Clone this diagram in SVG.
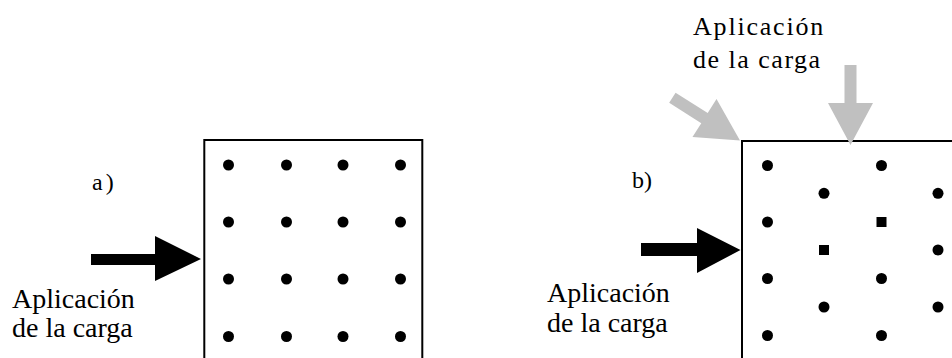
<svg xmlns="http://www.w3.org/2000/svg" width="952" height="358" viewBox="0 0 952 358">
<style>
.lbl{fill:#000;font-family:"Liberation Serif","Times New Roman",serif}
.box{fill:none;stroke:#000;stroke-width:2}
.dot{fill:#000}
.blk{fill:#000}
.gry{fill:#c0c0c0}
</style>
<defs>
<circle id="d" r="5.5" class="dot"/>
<rect id="s" x="-5" y="-5" width="10" height="10" class="dot"/>
<polygon id="ga" points="-80,-6 -42,-6 -42,-22.5 0,0 -42,22.5 -42,6 -80,6"/>
</defs>
<rect width="952" height="358" fill="#fff"/>

<g id="panel-a">
  <text class="lbl" x="92" y="190" font-size="24" letter-spacing="3">a)</text>
  <g id="box-a">
    <polyline class="box" points="204.3,358 204.3,140 422.3,140 422.3,358"/>
    <g id="grid-a">
      <use href="#d" x="228.5" y="165"/><use href="#d" x="286.5" y="165"/><use href="#d" x="343" y="165"/><use href="#d" x="400.5" y="165"/>
      <use href="#d" x="228.5" y="222"/><use href="#d" x="286.5" y="222"/><use href="#d" x="343" y="222"/><use href="#d" x="400.5" y="222"/>
      <use href="#d" x="228.5" y="279"/><use href="#d" x="286.5" y="279"/><use href="#d" x="343" y="279"/><use href="#d" x="400.5" y="279"/>
      <use href="#d" x="228.5" y="336.5"/><use href="#d" x="286.5" y="336.5"/><use href="#d" x="343" y="336.5"/><use href="#d" x="400.5" y="336.5"/>
    </g>
  </g>
  <g id="label-a">
    <text class="lbl" x="12" y="308" font-size="28">Aplicación</text>
    <text class="lbl" x="12" y="337" font-size="28">de la carga</text>
  </g>
</g>

<g id="panel-b">
  <text class="lbl" x="632" y="188" font-size="24">b)</text>
  <g id="box-b">
    <polyline class="box" points="742,358 742,141 952,141"/>
    <g id="grid-b">
      <use href="#d" x="767.5" y="165.5"/><use href="#d" x="881.5" y="165.5"/>
      <use href="#d" x="824" y="193.3"/><use href="#d" x="938" y="193.3"/>
      <use href="#d" x="767.5" y="222"/><use href="#s" x="881.5" y="222"/>
      <use href="#s" x="824" y="250"/><use href="#d" x="938" y="250"/>
      <use href="#d" x="767.5" y="278.5"/><use href="#d" x="881.5" y="278.5"/>
      <use href="#d" x="824" y="307"/><use href="#d" x="938" y="307"/>
      <use href="#d" x="767.5" y="335.5"/><use href="#d" x="881.5" y="335.5"/>
    </g>
  </g>
  <g id="label-b-top">
    <text class="lbl" x="693" y="35" font-size="26" letter-spacing="1.8">Aplicación</text>
    <text class="lbl" x="693" y="68" font-size="26" letter-spacing="1.5">de la carga</text>
  </g>
  <g id="label-b-left">
    <text class="lbl" x="547" y="302" font-size="28">Aplicación</text>
    <text class="lbl" x="547" y="332" font-size="28">de la carga</text>
  </g>
</g>

<g id="connectors">
  <polygon class="blk" points="91,254 155,254 155,236 201,259 155,281 155,265 91,265"/>
  <polygon class="blk" points="641,243 697,243 697,228 740.5,250 697,273 697,256 641,256"/>
  <use href="#ga" class="gry" transform="translate(740,140.5) rotate(32.3)"/>
  <use href="#ga" class="gry" transform="translate(850.5,145) rotate(90)"/>
</g>
</svg>
